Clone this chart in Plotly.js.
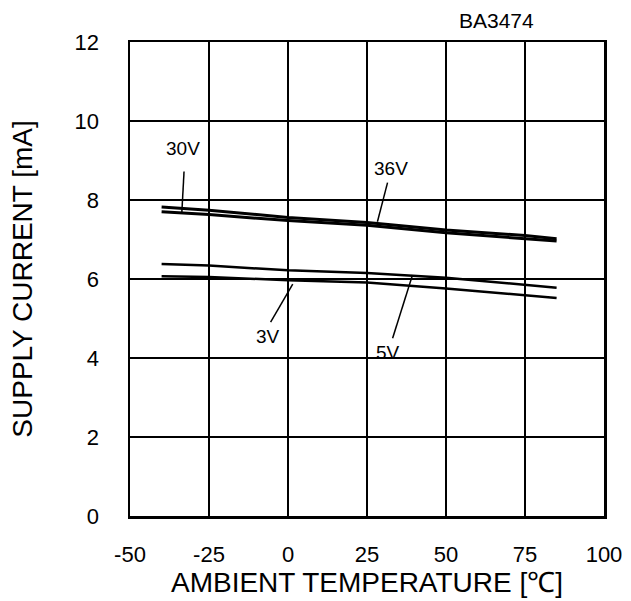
<!DOCTYPE html>
<html>
<head>
<meta charset="utf-8">
<script src="https://cdn.plot.ly/plotly-3.0.1.min.js"></script>
<style>html,body{margin:0;padding:0;background:#fff;}#chart{width:631px;height:601px;}</style>
</head>
<body>
<div id="chart"></div>
<script>
// Data
const tempC = [-40, -25, 0, 25, 50, 75, 85];
const current36V = [7.82, 7.74, 7.56, 7.43, 7.24, 7.10, 7.02];
const current30V = [7.70, 7.63, 7.48, 7.36, 7.17, 7.03, 6.96];
const current5V  = [6.38, 6.34, 6.22, 6.15, 6.03, 5.86, 5.78];
const current3V  = [6.07, 6.05, 5.97, 5.91, 5.76, 5.58, 5.52];

const seriesNames = ['36V', '30V', '5V', '3V'];
const seriesValues = [current36V, current30V, current5V, current3V];

const xTicks = [-50, -25, 0, 25, 50, 75, 100];
const yTicks = [0, 2, 4, 6, 8, 10, 12];

// label text positions and pointer targets (data coordinates)
const labelText = ['30V', '36V', '3V', '5V'];
const labelPos  = [[-33.3, 9.3], [32.5, 8.8], [-6.4, 4.55], [31.8, 4.15]];
const pointerFrom = [[-32.9, 8.72], [31.5, 8.44], [-5.5, 4.91], [33.1, 4.5]];
const pointerTo   = [[-33.6, 7.68], [28.3, 7.45], [1.5, 5.87], [39.4, 6.1]];

const font = 'Liberation Sans, Arial, sans-serif';

const traces = seriesNames.map((n, i) => ({
  x: tempC, y: seriesValues[i], name: n, type: 'scatter', mode: 'lines',
  line: {color: '#000', width: (i < 2 ? 3 : 2.5)}, hoverinfo: 'skip'
}));

const shapes = pointerFrom.map((p, i) => ({
  type: 'line', xref: 'x', yref: 'y',
  x0: p[0], y0: p[1], x1: pointerTo[i][0], y1: pointerTo[i][1],
  line: {color: '#000', width: 1.5}
}));

const annotations = labelText.map((t, i) => ({
  x: labelPos[i][0], y: labelPos[i][1], xref: 'x', yref: 'y', text: t,
  showarrow: false, font: {family: font, size: 19, color: '#000'}
}));
annotations.push({
  x: 0.773, y: 1.0, xref: 'paper', yref: 'paper', xanchor: 'center', yanchor: 'middle', yshift: 22,
  text: 'BA3474', showarrow: false, font: {family: font, size: 21, color: '#000'}
});

const layout = {
  width: 631, height: 601,
  margin: {l: 130, r: 27, t: 42, b: 85},
  paper_bgcolor: '#fff', plot_bgcolor: '#fff',
  showlegend: false,
  xaxis: {
    range: [-50, 100], tickvals: xTicks, ticktext: xTicks.map(String),
    showgrid: true, gridcolor: '#000', gridwidth: 2,
    zeroline: false, showline: true, linecolor: '#000', linewidth: 2.5, mirror: true,
    ticks: '', ticklabelstandoff: 17,
    tickfont: {family: font, size: 22, color: '#000'},
    title: {text: 'AMBIENT TEMPERATURE [℃]', font: {family: font, size: 28, color: '#000'}, standoff: 5}
  },
  yaxis: {
    range: [0, 12], tickvals: yTicks, ticktext: yTicks.map(String),
    showgrid: true, gridcolor: '#000', gridwidth: 2,
    zeroline: false, showline: true, linecolor: '#000', linewidth: 2.5, mirror: true,
    ticks: '', ticklabelstandoff: 24,
    tickfont: {family: font, size: 22, color: '#000'},
    title: {text: 'SUPPLY CURRENT [mA]', font: {family: font, size: 28, color: '#000'}, standoff: 34}
  },
  shapes: shapes,
  annotations: annotations
};

Plotly.newPlot('chart', traces, layout, {displayModeBar: false, staticPlot: true});
</script>
</body>
</html>
